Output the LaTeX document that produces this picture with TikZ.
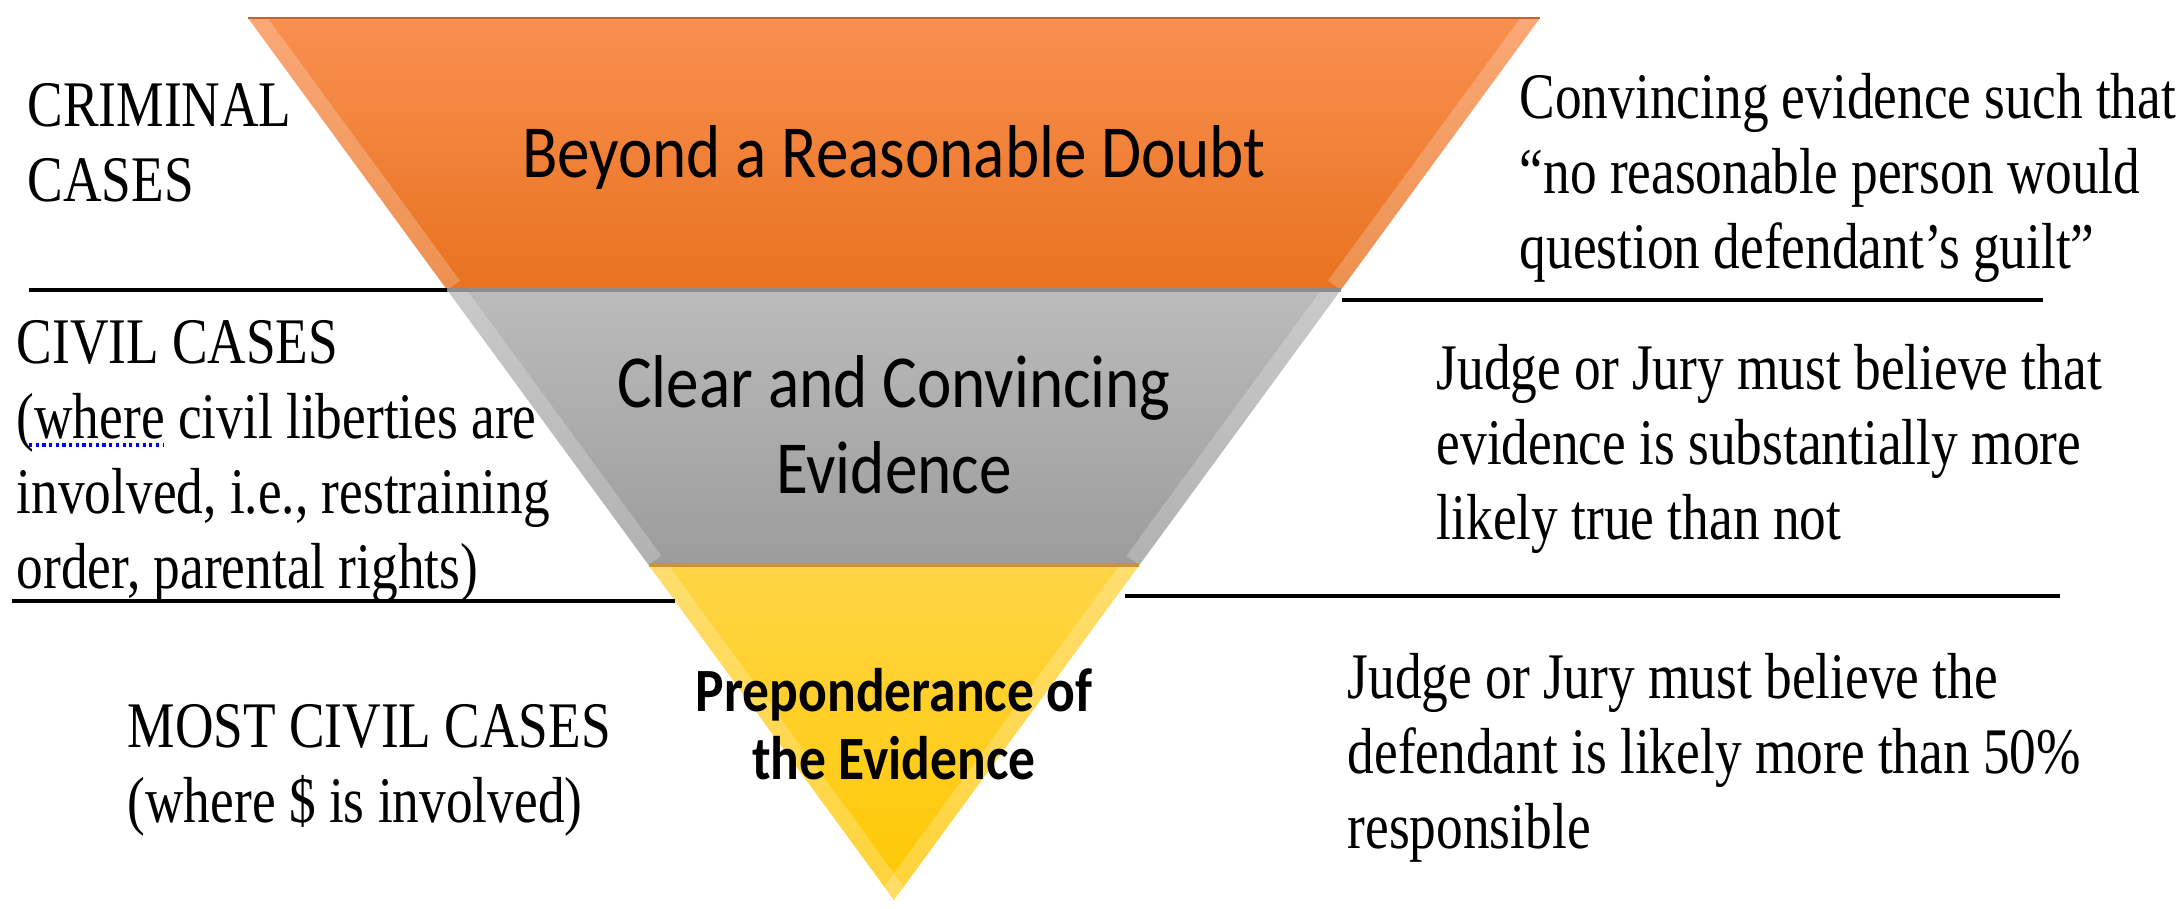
\documentclass[tikz,border=0pt]{standalone}
\usepackage{fontspec}
\setmainfont{Liberation Serif}[FakeStretch=0.82]
\newfontfamily\calibri{Carlito}[FakeStretch=0.87]
\usetikzlibrary{calc}

\definecolor{orangetop}{HTML}{F99050}
\definecolor{orangemid}{HTML}{FB8027}
\definecolor{orangebot}{HTML}{E8721F}
\definecolor{orangeedge}{HTML}{B8673C}
\definecolor{greytop}{HTML}{BBBBBB}
\definecolor{greybot}{HTML}{9C9C9C}
\definecolor{greyedge}{HTML}{8C8C8C}
\definecolor{goldtop}{HTML}{FFD546}
\definecolor{goldbot}{HTML}{FFC800}
\definecolor{goldedge}{HTML}{C8962E}

\tikzset{
  sidetext/.style={align=left, inner sep=0pt, anchor=north west,
    font=\fontsize{18.5}{21.3}\selectfont},
  bandtext/.style={align=center, inner sep=0pt,
    font=\calibri\fontsize{21.3}{24.5}\selectfont},
  rule/.style={line width=1.1pt, black},
  bevel/.style={white, opacity=0.22, line width=9pt},
}

\begin{document}
\begin{tikzpicture}[x=0.01cm, y=-0.01cm]
    \useasboundingbox (0,0) rectangle (2177,908);

    % corners of the funnel
    \coordinate (tl) at (248,18);
    \coordinate (tr) at (1540,18);
    \coordinate (apex) at (894,900);
    \coordinate (l1) at ($(tl)!0.3084!(apex)$);
    \coordinate (r1) at ($(tr)!0.3084!(apex)$);
    \coordinate (l2) at ($(tl)!0.6202!(apex)$);
    \coordinate (r2) at ($(tr)!0.6202!(apex)$);

    % Criminal band
    \shade[top color=orangetop, middle color=orangemid, bottom color=orangebot]
        (tl) -- (tr) -- (r1) -- (l1) -- cycle;
    \begin{scope}
        \clip (tl) -- (tr) -- (r1) -- (l1) -- cycle;
        \draw[bevel] (tl) -- (l1);
        \draw[bevel] (tr) -- (r1);
    \end{scope}

    % Civil band
    \shade[top color=greytop, bottom color=greybot]
        (l1) -- (r1) -- (r2) -- (l2) -- cycle;
    \begin{scope}
        \clip (l1) -- (r1) -- (r2) -- (l2) -- cycle;
        \draw[bevel] (l1) -- (l2);
        \draw[bevel] (r1) -- (r2);
    \end{scope}

    % Most civil band
    \shade[top color=goldtop, bottom color=goldbot]
        (l2) -- (r2) -- (apex) -- cycle;
    \begin{scope}
        \clip (l2) -- (r2) -- (apex) -- cycle;
        \draw[bevel] (l2) -- (apex);
        \draw[bevel] (r2) -- (apex);
    \end{scope}

    \draw[orangeedge, line width=0.8pt] (tl) -- (tr);
    \draw[greyedge, line width=1pt] (l1) -- (r1);
    \draw[goldedge, line width=1pt] (l2) -- (r2);

    % separators
    \draw[rule] (29,290) -- (l1);
    \draw[rule] (1342,300) -- (2043,300);
    \draw[rule] (12,601) -- (675,601);
    \draw[rule] (1125,596) -- (2060,596);

    % labels in the funnel
    \node[bandtext, anchor=base] (beyond) at (894,177) {Beyond a Reasonable Doubt};
    \node[bandtext, anchor=north] (clear) at (894,355) {Clear and Convincing\\Evidence};
    \node[bandtext, anchor=north, font=\calibri\bfseries\fontsize{17.5}{19.3}\selectfont]
        (prep) at (894,668) {Preponderance of\\the Evidence};

    % kinds of cases
    \node[sidetext] (criminal) at (27,83) {CRIMINAL\\CASES};
    \node[sidetext] (civil) at (16,320) {CIVIL CASES\\(where civil liberties are\\involved, i.e., restraining\\order, parental rights)};
    \draw[blue, densely dotted, line width=0.9pt] (29,445) -- (163,445);
    \node[sidetext] (mostcivil) at (127,704) {MOST CIVIL CASES\\(where \$ is involved)};

    % what the standard means
    \node[sidetext] (crimdesc) at (1519,73) {Convincing evidence such that\\“no reasonable person would\\question defendant’s guilt”};
    \node[sidetext] (civildesc) at (1436,344) {Judge or Jury must believe that\\evidence is substantially more\\likely true than not};
    \node[sidetext] (mostdesc) at (1347,653) {Judge or Jury must believe the\\defendant is likely more than 50\%\\responsible};
\end{tikzpicture}
\end{document}
